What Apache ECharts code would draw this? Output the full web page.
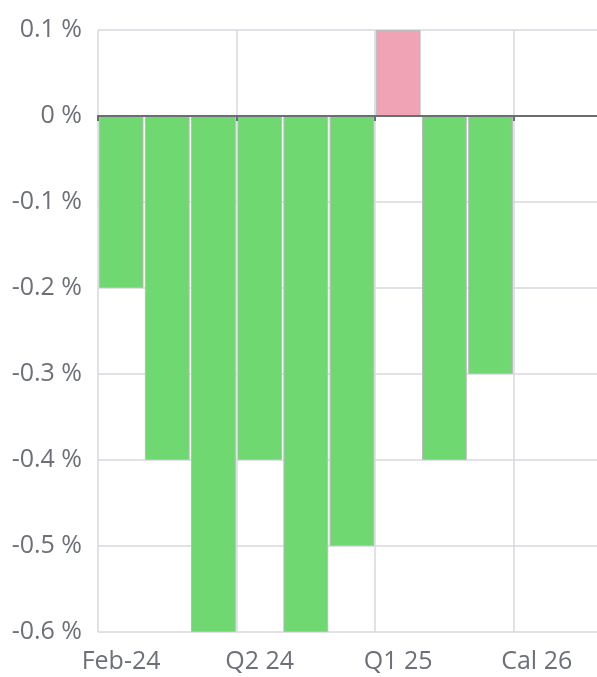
<!DOCTYPE html>
<html>
<head>
<meta charset="utf-8">
<script src="https://cdn.jsdelivr.net/npm/echarts@6/dist/echarts.min.js"></script>
<style>
  html, body { margin: 0; padding: 0; background: #fff; overflow: hidden; }
  #chart { width: 597px; height: 677px; }
</style>
</head>
<body>
<div id="chart"></div>
<script>
// Periods on the category axis
const categories = ['Feb-24', 'Mar-24', 'Apr-24', 'Q2 24', 'Q3 24', 'Q4 24', 'Q1 25', 'Q2 25', 'Q3 25', 'Cal 26', 'Cal 27'];
// Change per period, in percent
const changes = [-0.2, -0.4, -0.6, -0.4, -0.6, -0.5, 0.1, -0.4, -0.3, 0, 0];
// Value axis range and step
const yMin = -0.6;
const yMax = 0.1;
const yStep = 0.1;

const UP = '#f0a3b5';
const DOWN = '#70d870';
const LABEL = '#6e7079';
const GRID = '#d6d8df';

const chart = echarts.init(document.getElementById('chart'), null, { renderer: 'canvas' });

chart.setOption({
  animation: false,
  backgroundColor: '#fff',
  // plot area runs past the right edge of the canvas
  grid: { left: 98, width: 508, top: 30, bottom: 45, containLabel: false, outerBoundsMode: 'none' },
  xAxis: {
    type: 'category',
    data: categories,
    z: 5,
    axisLine: { onZero: true, lineStyle: { color: '#6b6d75', width: 2 } },
    axisTick: { show: true, interval: 2, length: 5, lineStyle: { color: '#6b6d75', width: 2 } },
    axisLabel: {
      interval: 2,
      color: LABEL,
      fontFamily: 'Open Sans',
      fontSize: 25,
      margin: 17
    },
    splitLine: { show: true, interval: 2, lineStyle: { color: GRID, width: 1.5 } }
  },
  yAxis: {
    type: 'value',
    min: yMin,
    max: yMax,
    interval: yStep,
    axisLine: { show: false },
    axisTick: { show: false },
    axisLabel: {
      color: LABEL,
      fontFamily: 'Open Sans',
      fontSize: 25,
      margin: 16,
      formatter: v => `${Number(v.toFixed(1))} %`
    },
    splitLine: { show: true, lineStyle: { color: GRID, width: 1.5 } }
  },
  series: [{
    type: 'bar',
    data: changes,
    barCategoryGap: '3%',
    itemStyle: {
      color: p => (p.value > 0 ? UP : DOWN),
      borderColor: '#b9bbbf',
      borderWidth: 1
    }
  }]
});
</script>
</body>
</html>
